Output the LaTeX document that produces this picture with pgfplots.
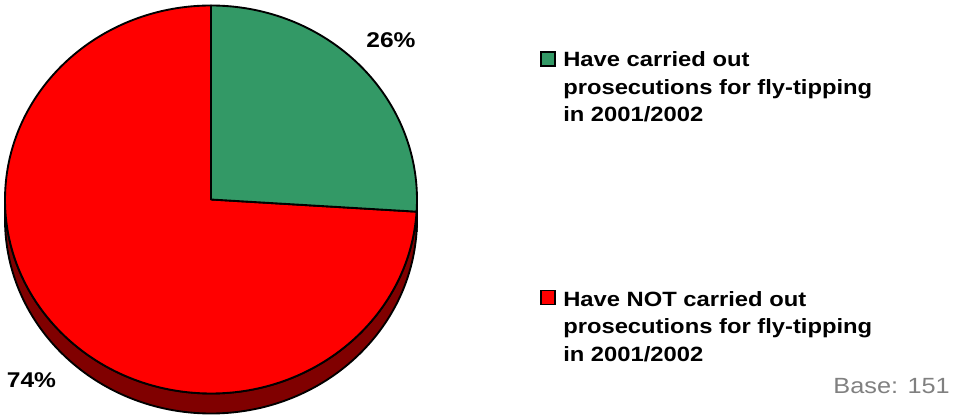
\documentclass[border=0pt]{standalone}
\usepackage{pgfplots}
\pgfplotsset{compat=1.18}
\usepackage{pgfplotstable}
\usepackage{fontspec}
\setmainfont{Liberation Sans}[FakeStretch=1.15]
\definecolor{pgreen}{HTML}{339966}
\definecolor{pred}{HTML}{FF0000}
\definecolor{sidered}{HTML}{800000}
\definecolor{sidegreen}{HTML}{1A4D33}
\definecolor{basegray}{HTML}{808080}

\pgfplotstableread{
share label
26 carried
74 notcarried
}\piedata

\begin{document}
\begin{tikzpicture}
\pgfplotstablegetelem{0}{share}\of\piedata%
\pgfmathsetmacro\angA{90-3.6*\pgfplotsretval}%
\pgfmathsetmacro\ex{211+206*cos(\angA)}%
\pgfmathsetmacro\ey{214.5+194*sin(\angA)}%
\pgfmathsetmacro\eyl{194.5+194*sin(\angA)}%
\pgfmathsetmacro\angB{360+\angA}%
\begin{axis}[
  x=0.75pt, y=0.75pt,
  xmin=0, xmax=959, ymin=0, ymax=414,
  axis lines=none, ticks=none, clip=false,
]
% side (depth) of the pie
\filldraw[fill=sidered, draw=black, line width=1.4pt, line join=round]
  (axis cs:5,214.5) -- (axis cs:5,194.5)
  arc[start angle=180, end angle=\angB, x radius=206, y radius=194]
  -- (axis cs:\ex,\ey)
  arc[start angle=\angB, end angle=180, x radius=206, y radius=194] -- cycle;
\filldraw[fill=sidegreen, draw=black, line width=1.4pt, line join=round]
  (axis cs:\ex,\eyl)
  arc[start angle=\angB, end angle=360, x radius=206, y radius=194]
  -- (axis cs:417,214.5)
  arc[start angle=360, end angle=\angB, x radius=206, y radius=194] -- cycle;
% top wedges
\filldraw[fill=pred, draw=black, line width=1.4pt, line join=round]
  (axis cs:211,214.5) -- (axis cs:\ex,\ey)
  arc[start angle=\angA, end angle=-270, x radius=206, y radius=194] -- cycle;
\filldraw[fill=pgreen, draw=black, line width=1.4pt, line join=round]
  (axis cs:211,214.5) -- (axis cs:211,408.5)
  arc[start angle=90, end angle=\angA, x radius=206, y radius=194] -- cycle;
% data labels
\node[anchor=base, inner sep=0pt, font=\bfseries\fontsize{16}{18}\selectfont] at (axis cs:391,366) {26\%};
\node[anchor=base, inner sep=0pt, font=\bfseries\fontsize{16}{18}\selectfont] at (axis cs:31.5,27) {74\%};
% legend
\filldraw[fill=pgreen, draw=black, line width=1.4pt] (axis cs:541,348) rectangle (axis cs:555,362);
\filldraw[fill=pred, draw=black, line width=1.4pt] (axis cs:541,109.5) rectangle (axis cs:555,123.5);
\begin{scope}[every node/.style={anchor=base west, inner sep=0pt, font=\bfseries\fontsize{15.5}{18}\selectfont}]
\node at (axis cs:563,347) {Have carried out};
\node at (axis cs:563,319) {prosecutions for fly-tipping};
\node at (axis cs:563,292) {in 2001/2002};
\node at (axis cs:563,108) {Have NOT carried out};
\node at (axis cs:563,80.5) {prosecutions for fly-tipping};
\node at (axis cs:563,53) {in 2001/2002};
\end{scope}
\node[anchor=base east, inner sep=0pt, text=basegray, font=\fontsize{16.5}{19}\selectfont] at (axis cs:950,21) {Base: 151};
\end{axis}
\pgfresetboundingbox
\useasboundingbox (current axis.south west) rectangle (current axis.north east);
\end{tikzpicture}
\end{document}
